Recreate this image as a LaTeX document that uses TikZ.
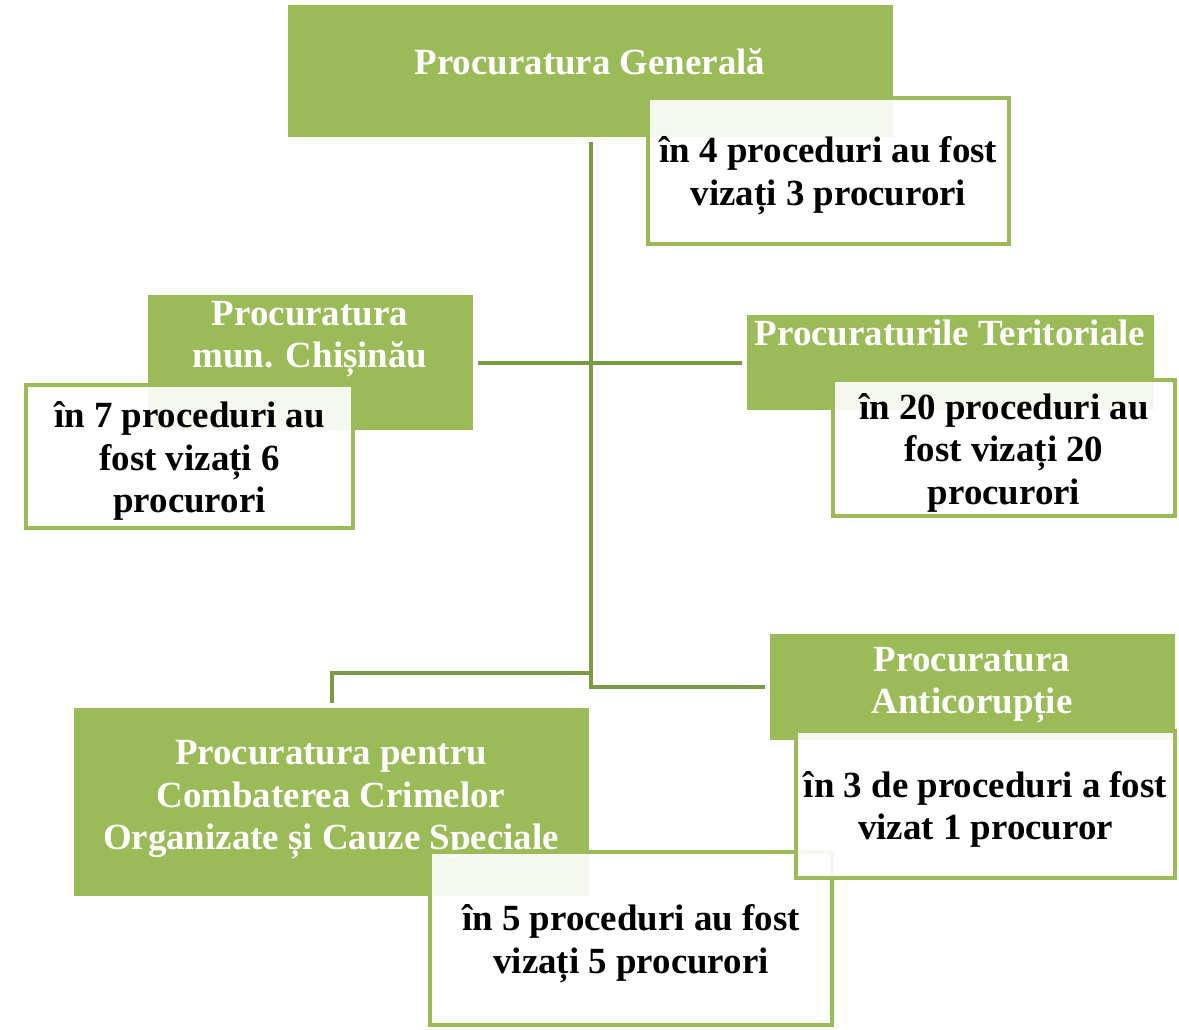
\documentclass[tikz,border=0pt]{standalone}
\usepackage{fontspec}
\setmainfont{Liberation Serif}
\definecolor{grfill}{HTML}{9BBB59}
\definecolor{grline}{HTML}{7A9A45}
\tikzset{
    box/.style={rectangle, fill=grfill, outer sep=0.1cm, inner sep=0pt},
    boxtext/.style={text=white, align=center, font=\bfseries\fontsize{21}{24.2}\selectfont},
    note/.style={rectangle, draw=grfill, line width=0.08cm, fill=white, fill opacity=0.9},
    notetext/.style={text=black, align=center, font=\bfseries\fontsize{21}{24.2}\selectfont},
    link/.style={draw=grline, line width=0.08cm}
}

\begin{document}
\begin{tikzpicture}[x=0.02cm, y=-0.02cm]
    \useasboundingbox (0,0) rectangle (1179,1029);

    \node[box, minimum width=12.1cm, minimum height=2.64cm] (gen) at (590.5,71) {};
    \node[boxtext] (gentext) at (590,62) {Procuratura Generală};
    \node[note, minimum width=7.22cm, minimum height=2.92cm] (gennote) at (828.5,171) {};
    \node[notetext] (gennotetext) at (828.5,175.5) {în 4 proceduri au fost\\vizați 3 procurori};

    \node[box, minimum width=6.5cm, minimum height=2.7cm] (chis) at (310.5,362.5) {};
    \node[boxtext] (chistext) at (310,339) {Procuratura\\mun. Chișinău};
    \node[note, minimum width=6.54cm, minimum height=2.86cm] (chisnote) at (189.5,456.5) {};
    \node[notetext] (chisnotetext) at (189.5,461) {în 7 proceduri au\\fost vizați 6\\procurori};

    \node[box, minimum width=8.14cm, minimum height=1.9cm] (teri) at (950.5,362.5) {};
    \node[boxtext] (teritext) at (950,333) {Procuraturile Teritoriale};
    \node[note, minimum width=6.84cm, minimum height=2.72cm] (terinote) at (1004,448) {};
    \node[notetext] (terinotetext) at (1004,452.5) {în 20 proceduri au\\fost vizați 20\\procurori};

    \node[box, minimum width=10.3cm, minimum height=3.76cm] (ocs) at (331.5,802) {};
    \node[boxtext] (ocstext) at (331,800) {Procuratura pentru\\Combaterea Crimelor\\Organizate și Cauze Speciale};
    \node[note, minimum width=8.04cm, minimum height=3.46cm] (ocsnote) at (631,938.5) {};
    \node[notetext] (ocsnotetext) at (631,943.5) {în 5 proceduri au fost\\vizați 5 procurori};

    \node[box, minimum width=8.1cm, minimum height=2.12cm] (anti) at (972.5,687) {};
    \node[boxtext] (antitext) at (972,685) {Procuratura\\Anticorupție};
    \node[note, minimum width=7.58cm, minimum height=2.94cm] (antinote) at (985.5,804.5) {};
    \node[notetext] (antinotetext) at (985.5,809.5) {în 3 de proceduri a fost\\vizat 1 procuror};

    % connectors
    \coordinate (split) at (590.5,673);
    \draw[link] (gen.south) -- (gen.south |- anti.west) -- (anti.west);
    \draw[link] (chis.east) -- (teri.west);
    \draw[link] (split) -| (ocs.north);
\end{tikzpicture}
\end{document}
